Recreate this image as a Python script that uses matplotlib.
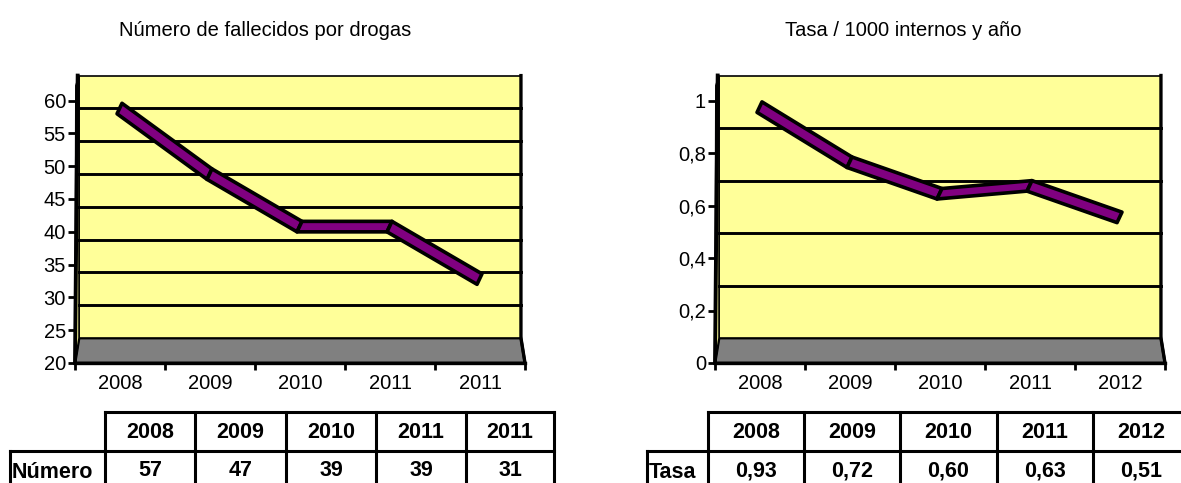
import numpy as np
import matplotlib
matplotlib.use("Agg")
import matplotlib.pyplot as plt
from matplotlib.patches import Polygon

plt.rcParams['font.family'] = ['Liberation Sans', 'DejaVu Sans']

# data
years_num = ['2008', '2009', '2010', '2011', '2011']
numero = [57, 47, 39, 39, 31]
years_tasa = ['2008', '2009', '2010', '2011', '2012']
tasa = [0.93, 0.72, 0.60, 0.63, 0.51]
yticks_num = [20, 25, 30, 35, 40, 45, 50, 55, 60]
yticks_tasa = [0, 0.2, 0.4, 0.6, 0.8, 1.0]
title_num = 'Número de fallecidos por drogas'
title_tasa = 'Tasa / 1000 internos y año'

W, H = 1181, 483
fig = plt.figure(figsize=(W / 100, H / 100), dpi=100)

YELLOW = '#FFFF99'
GRAY = '#808080'
PURPLE = '#800080'


def fmt(v):
    return ('%g' % v).replace('.', ',')


def chart(left_px, vals, cats, yticks, ymin, ymax_wall, px_per_unit, gridvals):
    ax = fig.add_axes([left_px / W, 120 / H, 450 / W, 293 / H])
    top = ymin + 293 / px_per_unit
    ax.set_xlim(0, 5)
    ax.set_ylim(ymin, top)
    ax.set_facecolor('none')
    for s in ax.spines.values():
        s.set_visible(False)
    dz = 25 / px_per_unit
    dxl, dxr = 0.045, 0.045
    # floor
    ax.add_patch(Polygon([(0, ymin), (5, ymin), (5 - dxr, ymin + dz), (dxl, ymin + dz)],
                         closed=True, fc=GRAY, ec='black', lw=2.0, clip_on=False, zorder=1))
    # back wall
    ax.add_patch(Polygon([(dxl, ymin + dz), (5 - dxr, ymin + dz), (5 - dxr, ymax_wall + dz),
                          (dxl, ymax_wall + dz)],
                         closed=True, fc=YELLOW, ec='black', lw=1.2, clip_on=False, zorder=1))
    # left side wall
    ax.add_patch(Polygon([(0, ymin), (dxl, ymin + dz), (dxl, ymax_wall + dz), (0.01, ymax_wall + dz * 0.6)],
                         closed=True, fc=YELLOW, ec='black', lw=1.2, clip_on=False, zorder=1))
    # right wall edge
    ax.plot([5, 5 - dxr, 5 - dxr], [ymin, ymin + dz, ymax_wall + dz], color='black', lw=2.4,
            clip_on=False, zorder=2, solid_joinstyle='miter')
    # gridlines on back wall
    for g in gridvals:
        ax.plot([dxl, 5 - dxr], [g + dz, g + dz], color='black', lw=2.1, zorder=2)
    # axis lines
    ax.plot([0, 5], [ymin, ymin], color='black', lw=2.4, clip_on=False, zorder=3)
    ax.plot([0, 0.03], [ymin, ymax_wall + dz], color='black', lw=2.8, clip_on=False, zorder=3)

    # ribbon
    zf = 6.5 / px_per_unit
    zb = 17 / px_per_unit
    dxf, dxb = -0.033, 0.022
    x = np.arange(len(vals)) + 0.5
    for i in range(len(vals) - 1):
        pts = [(x[i] + dxf, vals[i] + zf), (x[i + 1] + dxf, vals[i + 1] + zf),
               (x[i + 1] + dxb, vals[i + 1] + zb), (x[i] + dxb, vals[i] + zb)]
        ax.add_patch(Polygon(pts, closed=True, fc=PURPLE, ec='black', lw=2.6, zorder=5,
                             joinstyle='round'))

    ax.set_yticks(yticks)
    ax.set_yticklabels([fmt(v) for v in yticks])
    ax.tick_params(axis='y', direction='out', length=5, width=2, pad=1.5, labelsize=14.5)
    ax.set_xticks(np.arange(6))
    ax.set_xticklabels([])
    ax.set_xticks(x, minor=True)
    ax.set_xticklabels(cats, minor=True)
    ax.tick_params(axis='x', which='major', direction='out', length=5, width=2)
    ax.tick_params(axis='x', which='minor', length=0, pad=8, labelsize=14.5)
    return ax


chart(75, numero, years_num, yticks_num, 20, 60, 32.8 / 5, [25, 30, 35, 40, 45, 50, 55])
chart(715, tasa, years_tasa, yticks_tasa, 0, 1.0, 262.5, [0.2, 0.4, 0.6, 0.8])

fig.text(265 / W, 1 - 30 / H, title_num, ha='center', va='center', fontsize=14.5)
fig.text(903 / W, 1 - 30 / H, title_tasa, ha='center', va='center', fontsize=14.5)

# tables (drawn in pixel coordinates of an overlay)
tab = fig.add_axes([0, 0, 1, 1])
tab.set_xlim(0, W)
tab.set_ylim(H, 0)
tab.axis('off')
tab.set_zorder(-1)


def table(label, lab_left, col_edges, header, cells):
    y0, y1, y2 = 412, 451, 495
    lw = 2.2
    kw = dict(color='black', lw=lw, clip_on=False, solid_capstyle='projecting')
    tab.plot([col_edges[0], col_edges[-1]], [y0, y0], **kw)
    tab.plot([lab_left, col_edges[-1]], [y1, y1], **kw)
    for cx in col_edges:
        tab.plot([cx, cx], [y0, y2], **kw)
    tab.plot([lab_left, lab_left], [y1, y2], **kw)
    for i in range(len(header)):
        xc = (col_edges[i] + col_edges[i + 1]) / 2
        tab.text(xc, (y0 + y1) / 2 + 1, header[i], ha='center', va='center',
                 fontsize=15.5, fontweight='bold')
        tab.text(xc, 471, cells[i], ha='center', va='center', fontsize=15.5, fontweight='bold')
    tab.text(lab_left + 2, 473, label, ha='left', va='center', fontsize=15.5, fontweight='bold')


table('Número', 10, [105, 195, 286, 376, 466, 554], years_num, [str(v) for v in numero])
table('Tasa', 647, [708, 804, 900, 997, 1093, 1189], years_tasa,
      [('%.2f' % v).replace('.', ',') for v in tasa])

fig.savefig('out.png', dpi=100)
